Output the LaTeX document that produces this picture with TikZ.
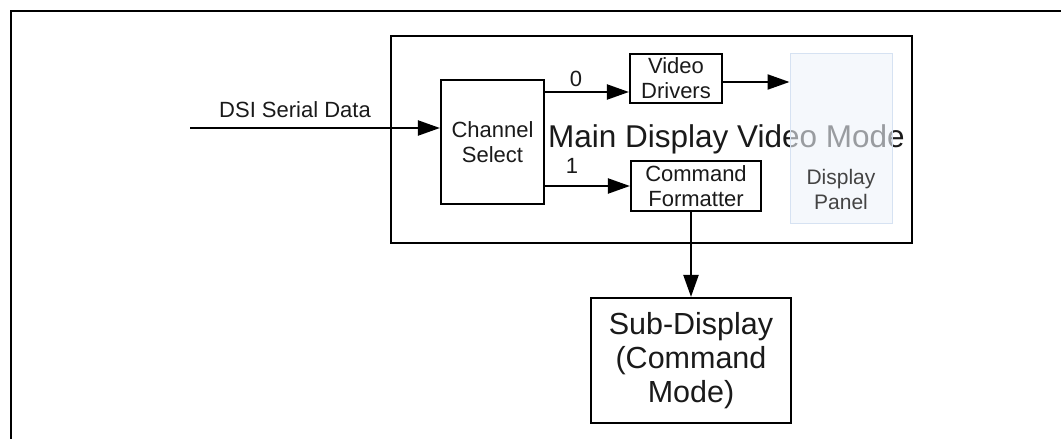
\documentclass[tikz,border=0pt]{standalone}
\usepackage{fontspec}
\setmainfont{Liberation Sans}
\usetikzlibrary{arrows.meta,calc}
\definecolor{txt}{HTML}{1A1A1A}
\definecolor{panelfill}{HTML}{EEF3FA}
\definecolor{panelline}{HTML}{D6E2F2}
\definecolor{paneltxt}{HTML}{444444}
\tikzset{
  blk/.style={draw=black, line width=2.2pt, fill=white, align=center, text=txt, inner sep=0pt,
    font=\fontsize{22}{25}\selectfont},
  arr/.style={line width=2.2pt, -{Triangle[length=22pt,width=15pt]}},
  lbl/.style={text=txt, inner sep=0pt, font=\fontsize{22}{25}\selectfont},
}
\begin{document}
\begin{tikzpicture}[x=1pt,y=-1pt]
\useasboundingbox (0,0) rectangle (1061,439);
% outer frame (cut by the image edges)
\draw[line width=2.2pt] (11,445) -- (11,11) -- (1070,11);
% main box
\node[draw, line width=2.2pt, minimum width=521pt, minimum height=207pt, inner sep=0pt, anchor=north west] (main) at (390,35) {};
% main caption
\node[anchor=base, inner sep=0pt, text=txt, font=\fontsize{31.5}{35}\selectfont] (maintxt) at (726.5,147) {Main Display Video Mode};
% display panel
\node[draw=panelline, line width=1pt, fill=panelfill, fill opacity=0.6, minimum width=102pt, minimum height=170pt, inner sep=0pt] (dp) at (841,138) {};
\node[align=center, text=paneltxt, inner sep=0pt, font=\fontsize{21}{25}\selectfont] (dptxt) at (841,189) {Display\\Panel};
% blocks
\node[blk, minimum width=103pt, minimum height=124pt] (cs) at (492.5,142) {Channel\\Select};
\node[blk, minimum width=92pt, minimum height=49pt] (vd) at (676,78.5) {Video\\Drivers};
\node[blk, minimum width=130pt, minimum height=50pt] (cf) at (696,186) {Command\\Formatter};
\node[blk, minimum width=200pt, minimum height=125pt, font=\fontsize{30.5}{34}\selectfont] (sd) at (691,360.5) {Sub-Display\\(Command\\Mode)};
% input
\coordinate (dsi) at (190,128);
\draw[arr] (dsi) -- (dsi -| cs.west);
\node[lbl] (dsitxt) at (295,110) {DSI Serial Data};
% channel outputs
\coordinate (a0) at ([yshift=-13.5pt]vd.west);
\draw[arr] (a0 -| cs.east) -- (a0);
\node[lbl] (l0) at (576,79) {0};
\draw[arr] (cf.west -| cs.east) -- (cf.west);
\node[lbl] (l1) at (572,166) {1};
% video drivers to panel
\coordinate (vo) at ([yshift=-3.5pt]vd.east);
\draw[arr] (vo) -- (vo -| dp.west);
% command formatter to sub-display
\draw[arr] (sd.north |- cf.south) -- (sd.north);
\end{tikzpicture}
\end{document}
